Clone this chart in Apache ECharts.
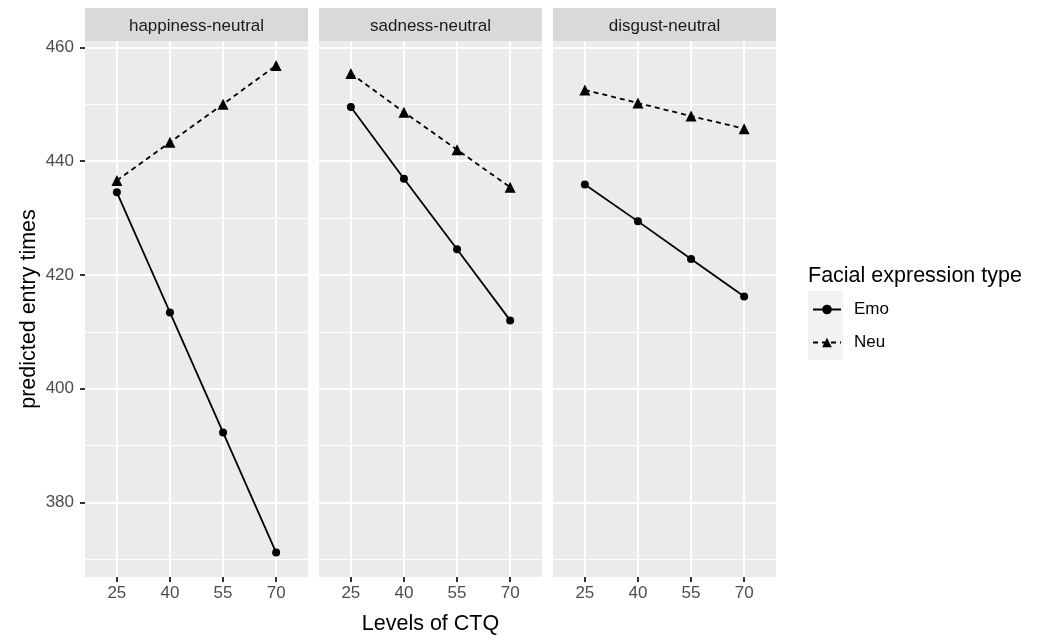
<!DOCTYPE html>
<html>
<head>
<meta charset="utf-8">
<script src="https://cdn.jsdelivr.net/npm/echarts@6/dist/echarts.min.js"></script>
<style>
  html, body { margin: 0; background: #fff; }
  #chart { width: 1037px; height: 635px; }
</style>
</head>
<body>
<div id="chart"></div>
<script>
var panelNames = ['happiness-neutral', 'sadness-neutral', 'disgust-neutral'];
var ctqLevels = [25, 40, 55, 70];
var emoHappiness = [434.5, 413.4, 392.3, 371.2];
var neuHappiness = [436.6, 443.3, 450.0, 456.8];
var emoSadness = [449.5, 436.9, 424.5, 412.0];
var neuSadness = [455.4, 448.6, 442.0, 435.4];
var emoDisgust = [435.9, 429.4, 422.8, 416.2];
var neuDisgust = [452.5, 450.2, 447.9, 445.7];
var yTicks = [380, 400, 420, 440, 460];
var yMinorTicks = [370, 390, 410, 430, 450];

var emoData = [emoHappiness, emoSadness, emoDisgust];
var neuData = [neuHappiness, neuSadness, neuDisgust];

var FONT = '"Liberation Sans", Arial, sans-serif';
var panelLeft = [85, 319, 553];
var panelWidth = 223;

function pairs(values) {
  return ctqLevels.map(function (x, i) { return [x, values[i]]; });
}

var grids = [], xAxes = [], yAxes = [], series = [], graphics = [];

panelLeft.forEach(function (left, i) {
  grids.push({
    left: left, width: panelWidth, top: 41, bottom: 58,
    outerBoundsMode: 'none', containLabel: false,
    show: true, backgroundColor: '#EBEBEB', borderWidth: 0
  });

  xAxes.push({
    type: 'value', gridIndex: i, min: 16, max: 79,
    axisLine: { show: false },
    axisTick: { show: true, length: 5, customValues: ctqLevels, lineStyle: { color: '#333', width: 2 } },
    axisLabel: { customValues: ctqLevels, margin: 8, color: '#4D4D4D', fontSize: 17, fontFamily: FONT },
    splitLine: { show: true, lineStyle: { color: '#fff', width: 2 } },
    name: i === 1 ? 'Levels of CTQ' : '',
    nameLocation: 'middle', nameGap: 36,
    nameTextStyle: { color: '#000', fontSize: 21.5, fontFamily: FONT }
  });

  // major y
  yAxes.push({
    type: 'value', gridIndex: i, min: 366.9, max: 461.1,
    axisLine: { show: false },
    axisTick: { show: i === 0, length: 5, customValues: yTicks, lineStyle: { color: '#333', width: 2 } },
    axisLabel: { show: i === 0, customValues: yTicks, margin: 11, color: '#4D4D4D', fontSize: 17, fontFamily: FONT },
    splitLine: { show: true, lineStyle: { color: '#fff', width: 2 } },
    name: i === 0 ? 'predicted entry times' : '',
    nameLocation: 'middle', nameGap: 45, nameRotate: 90,
    nameTextStyle: { color: '#000', fontSize: 21.5, fontFamily: FONT }
  });
  // minor y grid
  yAxes.push({
    type: 'value', gridIndex: i, min: 366.9, max: 461.1, position: 'right',
    axisLine: { show: false },
    axisTick: { show: false, customValues: yMinorTicks },
    axisLabel: { show: false, customValues: yMinorTicks },
    splitLine: { show: true, lineStyle: { color: '#fff', width: 1 } }
  });

  series.push({
    name: 'Emo', type: 'line', xAxisIndex: i, yAxisIndex: i * 2,
    data: pairs(emoData[i]),
    symbol: 'circle', symbolSize: 8,
    itemStyle: { color: '#000' },
    lineStyle: { color: '#000', width: 1.8 }
  });
  series.push({
    name: 'Neu', type: 'line', xAxisIndex: i, yAxisIndex: i * 2,
    data: pairs(neuData[i]),
    symbol: 'triangle', symbolSize: 11,
    itemStyle: { color: '#000' },
    lineStyle: { color: '#000', width: 1.8, type: [5, 4] }
  });

  graphics.push({
    type: 'rect', left: left, top: 8,
    shape: { width: panelWidth, height: 33 },
    style: { fill: '#D9D9D9' }
  });
  graphics.push({
    type: 'text', x: left + panelWidth / 2, y: 26,
    style: { text: panelNames[i], align: 'center', verticalAlign: 'middle', fontSize: 17, fontFamily: FONT, fill: '#1A1A1A' }
  });
});

// legend key background
graphics.push({
  type: 'rect', left: 808, top: 291,
  shape: { width: 35, height: 69 },
  style: { fill: '#F2F2F2' }
});

var chart = echarts.init(document.getElementById('chart'));
chart.setOption({
  animation: false,
  backgroundColor: '#fff',
  title: {
    text: 'Facial expression type', left: 808, top: 265, padding: 0,
    textStyle: { color: '#000', fontSize: 21.5, fontWeight: 'normal', fontFamily: FONT }
  },
  legend: {
    data: ['Emo', 'Neu'], orient: 'vertical', left: 812, top: 301, padding: 0,
    itemWidth: 28, itemHeight: 12, itemGap: 16,
    textStyle: { color: '#000', fontSize: 17, fontFamily: FONT, padding: [0, 0, 0, 8] }
  },
  graphic: graphics,
  grid: grids,
  xAxis: xAxes,
  yAxis: yAxes,
  series: series
});
</script>
</body>
</html>
